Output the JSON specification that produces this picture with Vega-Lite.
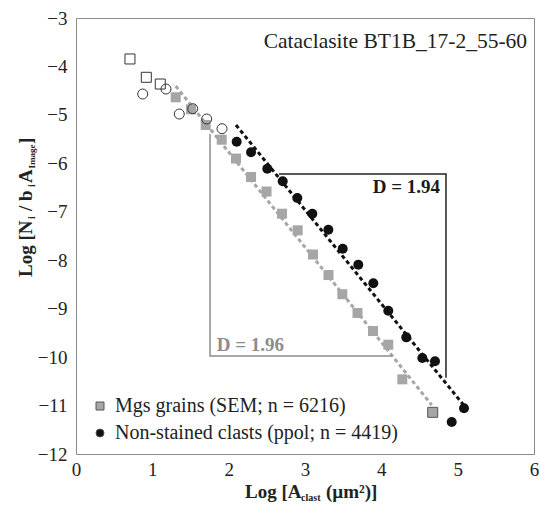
{
  "$schema": "https://vega.github.io/schema/vega-lite/v6.json",
  "width": 458,
  "height": 436,
  "autosize": {"type": "none"},
  "padding": {"left": 76, "top": 18, "right": 6, "bottom": 52},
  "background": "white",
  "config": {
    "view": {"stroke": "#8a8a8a", "strokeWidth": 1},
    "font": "Liberation Serif"
  },
  "datasets": {
    "filled": [
      {"series": "Mgs grains (SEM; n = 6216)", "x": 1.306, "y": -4.637},
      {"series": "Mgs grains (SEM; n = 6216)", "x": 1.507, "y": -4.885},
      {"series": "Mgs grains (SEM; n = 6216)", "x": 1.699, "y": -5.209},
      {"series": "Mgs grains (SEM; n = 6216)", "x": 1.909, "y": -5.512},
      {"series": "Mgs grains (SEM; n = 6216)", "x": 2.096, "y": -5.901},
      {"series": "Mgs grains (SEM; n = 6216)", "x": 2.293, "y": -6.282},
      {"series": "Mgs grains (SEM; n = 6216)", "x": 2.496, "y": -6.582},
      {"series": "Mgs grains (SEM; n = 6216)", "x": 2.699, "y": -7.040},
      {"series": "Mgs grains (SEM; n = 6216)", "x": 2.904, "y": -7.383},
      {"series": "Mgs grains (SEM; n = 6216)", "x": 3.105, "y": -7.882},
      {"series": "Mgs grains (SEM; n = 6216)", "x": 3.308, "y": -8.306},
      {"series": "Mgs grains (SEM; n = 6216)", "x": 3.489, "y": -8.702},
      {"series": "Mgs grains (SEM; n = 6216)", "x": 3.688, "y": -9.090},
      {"series": "Mgs grains (SEM; n = 6216)", "x": 3.891, "y": -9.462},
      {"series": "Mgs grains (SEM; n = 6216)", "x": 4.091, "y": -9.744},
      {"series": "Mgs grains (SEM; n = 6216)", "x": 4.275, "y": -10.459},
      {"series": "Mgs grains (SEM; n = 6216)", "x": 4.673, "y": -11.140},
      {"series": "Non-stained clasts (ppol; n = 4419)", "x": 2.105, "y": -5.554},
      {"series": "Non-stained clasts (ppol; n = 4419)", "x": 2.293, "y": -5.773},
      {"series": "Non-stained clasts (ppol; n = 4419)", "x": 2.506, "y": -6.111},
      {"series": "Non-stained clasts (ppol; n = 4419)", "x": 2.708, "y": -6.371},
      {"series": "Non-stained clasts (ppol; n = 4419)", "x": 2.899, "y": -6.716},
      {"series": "Non-stained clasts (ppol; n = 4419)", "x": 3.096, "y": -7.040},
      {"series": "Non-stained clasts (ppol; n = 4419)", "x": 3.306, "y": -7.370},
      {"series": "Non-stained clasts (ppol; n = 4419)", "x": 3.494, "y": -7.763},
      {"series": "Non-stained clasts (ppol; n = 4419)", "x": 3.698, "y": -8.095},
      {"series": "Non-stained clasts (ppol; n = 4419)", "x": 3.895, "y": -8.477},
      {"series": "Non-stained clasts (ppol; n = 4419)", "x": 4.091, "y": -9.043},
      {"series": "Non-stained clasts (ppol; n = 4419)", "x": 4.327, "y": -9.592},
      {"series": "Non-stained clasts (ppol; n = 4419)", "x": 4.537, "y": -10.019},
      {"series": "Non-stained clasts (ppol; n = 4419)", "x": 4.703, "y": -10.087},
      {"series": "Non-stained clasts (ppol; n = 4419)", "x": 4.922, "y": -11.340},
      {"series": "Non-stained clasts (ppol; n = 4419)", "x": 5.083, "y": -11.057}
    ],
    "outlined": [
      {"x": 4.673, "y": -11.140}
    ],
    "hollowSquares": [
      {"x": 0.707, "y": -3.846},
      {"x": 0.921, "y": -4.224},
      {"x": 1.104, "y": -4.363}
    ],
    "hollowCircles": [
      {"x": 0.874, "y": -4.569},
      {"x": 1.179, "y": -4.466},
      {"x": 1.353, "y": -4.982},
      {"x": 1.529, "y": -4.872},
      {"x": 1.712, "y": -5.085},
      {"x": 1.913, "y": -5.285}
    ],
    "fitMgs": [
      {"x": 1.306, "y": -4.404},
      {"x": 4.660, "y": -10.989}
    ],
    "fitClast": [
      {"x": 2.096, "y": -5.209},
      {"x": 5.096, "y": -11.024}
    ],
    "boxClast": [
      {"i": 0, "x": 2.66, "y": -6.22},
      {"i": 1, "x": 4.847, "y": -6.22},
      {"i": 2, "x": 4.847, "y": -10.426}
    ],
    "boxMgs": [
      {"i": 0, "x": 1.756, "y": -5.395},
      {"i": 1, "x": 1.756, "y": -9.978},
      {"i": 2, "x": 4.136, "y": -9.978}
    ]
  },
  "layer": [
    {
      "data": {"name": "fitMgs"},
      "mark": {"type": "line", "color": "#a6a6a6", "strokeWidth": 3, "strokeDash": [4, 3]},
      "encoding": {
        "x": {"field": "x", "type": "quantitative",
              "scale": {"domain": [0, 6], "nice": false, "zero": false},
              "axis": {"values": [0, 1, 2, 3, 4, 5, 6], "format": "d", "grid": false, "ticks": false, "domain": false,
                       "labelFont": "Liberation Serif", "labelFontSize": 19, "labelColor": "#222",
                       "labelPadding": 6, "title": null, "labelFlush": false}},
        "y": {"field": "y", "type": "quantitative",
              "scale": {"domain": [-12, -3], "nice": false, "zero": false},
              "axis": {"values": [-12, -11, -10, -9, -8, -7, -6, -5, -4, -3], "format": "d", "grid": false, "ticks": false, "domain": false,
                       "labelFont": "Liberation Serif", "labelFontSize": 19, "labelColor": "#222",
                       "labelPadding": 9, "title": null, "labelFlush": false}}
      }
    },
    {
      "data": {"name": "fitClast"},
      "mark": {"type": "line", "color": "#111111", "strokeWidth": 3, "strokeDash": [4, 3]},
      "encoding": {
        "x": {"field": "x", "type": "quantitative"},
        "y": {"field": "y", "type": "quantitative"}
      }
    },
    {
      "data": {"name": "boxClast"},
      "mark": {"type": "line", "color": "#222222", "strokeWidth": 1.5},
      "encoding": {
        "x": {"field": "x", "type": "quantitative"},
        "y": {"field": "y", "type": "quantitative"},
        "order": {"field": "i", "type": "quantitative"}
      }
    },
    {
      "data": {"name": "boxMgs"},
      "mark": {"type": "line", "color": "#8c8c8c", "strokeWidth": 1.5},
      "encoding": {
        "x": {"field": "x", "type": "quantitative"},
        "y": {"field": "y", "type": "quantitative"},
        "order": {"field": "i", "type": "quantitative"}
      }
    },
    {
      "data": {"name": "filled"},
      "mark": {"type": "point", "filled": true, "opacity": 1, "size": 100},
      "encoding": {
        "x": {"field": "x", "type": "quantitative"},
        "y": {"field": "y", "type": "quantitative"},
        "color": {"field": "series", "type": "nominal",
                  "scale": {"domain": ["Mgs grains (SEM; n = 6216)", "Non-stained clasts (ppol; n = 4419)"],
                            "range": ["#a6a6a6", "#111111"]},
                  "legend": {"title": null, "orient": "none", "legendX": 14, "legendY": 378, "padding": 0,
                             "labelFont": "Liberation Serif", "labelFontSize": 20, "labelColor": "#222",
                             "symbolSize": 64, "rowPadding": 7, "labelOffset": 5,
                             "symbolStrokeColor": "#555555", "symbolStrokeWidth": 1, "labelLimit": 400}},
        "shape": {"field": "series", "type": "nominal",
                  "scale": {"domain": ["Mgs grains (SEM; n = 6216)", "Non-stained clasts (ppol; n = 4419)"],
                            "range": ["square", "circle"]},
                  "legend": {"title": null, "orient": "none", "legendX": 14, "legendY": 378, "padding": 0,
                             "labelFont": "Liberation Serif", "labelFontSize": 20, "labelColor": "#222",
                             "symbolSize": 64, "rowPadding": 7, "labelOffset": 5,
                             "symbolStrokeColor": "#555555", "symbolStrokeWidth": 1, "labelLimit": 400}}
      }
    },
    {
      "data": {"name": "outlined"},
      "mark": {"type": "point", "shape": "square", "filled": false, "color": "#555555", "strokeWidth": 1, "size": 100, "opacity": 1},
      "encoding": {
        "x": {"field": "x", "type": "quantitative"},
        "y": {"field": "y", "type": "quantitative"}
      }
    },
    {
      "data": {"name": "hollowSquares"},
      "mark": {"type": "point", "shape": "square", "filled": false, "color": "#333333", "strokeWidth": 1, "size": 100, "opacity": 1},
      "encoding": {
        "x": {"field": "x", "type": "quantitative"},
        "y": {"field": "y", "type": "quantitative"}
      }
    },
    {
      "data": {"name": "hollowCircles"},
      "mark": {"type": "point", "shape": "circle", "filled": false, "color": "#333333", "strokeWidth": 1, "size": 100, "opacity": 1},
      "encoding": {
        "x": {"field": "x", "type": "quantitative"},
        "y": {"field": "y", "type": "quantitative"}
      }
    },
    {
      "data": {"values": [{}]},
      "mark": {"type": "text", "align": "right", "baseline": "alphabetic", "font": "Liberation Serif", "fontSize": 21.5, "color": "#222222"},
      "encoding": {"x": {"datum": 5.909}, "y": {"datum": -3.609}, "text": {"value": "Cataclasite BT1B_17-2_55-60"}}
    },
    {
      "data": {"values": [{}]},
      "mark": {"type": "text", "align": "right", "baseline": "alphabetic", "font": "Liberation Serif", "fontWeight": "bold", "fontSize": 19, "color": "#1a1a1a"},
      "encoding": {"x": {"datum": 4.769}, "y": {"datum": -6.613}, "text": {"value": "D = 1.94"}}
    },
    {
      "data": {"values": [{}]},
      "mark": {"type": "text", "align": "left", "baseline": "alphabetic", "font": "Liberation Serif", "fontWeight": "bold", "fontSize": 19, "color": "#8c8c8c"},
      "encoding": {"x": {"datum": 1.843}, "y": {"datum": -9.868}, "text": {"value": "D = 1.96"}}
    },
    {
      "data": {"values": [{}]},
      "mark": {"type": "text", "align": "left", "baseline": "alphabetic", "font": "Liberation Serif", "fontWeight": "bold", "fontSize": 19, "color": "#222222"},
      "encoding": {"x": {"datum": 2.214}, "y": {"datum": -12.909}, "text": {"value": "Log [A"}}
    },
    {
      "data": {"values": [{}]},
      "mark": {"type": "text", "align": "left", "baseline": "alphabetic", "font": "Liberation Serif", "fontWeight": "bold", "fontSize": 10, "color": "#222222"},
      "encoding": {"x": {"datum": 2.948}, "y": {"datum": -12.971}, "text": {"value": "clast"}}
    },
    {
      "data": {"values": [{}]},
      "mark": {"type": "text", "align": "left", "baseline": "alphabetic", "font": "Liberation Serif", "fontWeight": "bold", "fontSize": 19, "color": "#222222"},
      "encoding": {"x": {"datum": 3.275}, "y": {"datum": -12.909}, "text": {"value": "(µm²)]"}}
    },
    {
      "data": {"values": [{}]},
      "mark": {"type": "text", "align": "left", "baseline": "alphabetic", "angle": 270, "font": "Liberation Serif", "fontWeight": "bold", "fontSize": 19, "color": "#222222"},
      "encoding": {"x": {"datum": -0.58}, "y": {"datum": -8.347}, "text": {"value": "Log [N"}}
    },
    {
      "data": {"values": [{}]},
      "mark": {"type": "text", "align": "left", "baseline": "alphabetic", "angle": 270, "font": "Liberation Serif", "fontWeight": "bold", "fontSize": 10, "color": "#222222"},
      "encoding": {"x": {"datum": -0.537}, "y": {"datum": -7.149}, "text": {"value": "i"}}
    },
    {
      "data": {"values": [{}]},
      "mark": {"type": "text", "align": "left", "baseline": "alphabetic", "angle": 270, "font": "Liberation Serif", "fontWeight": "bold", "fontSize": 19, "color": "#222222"},
      "encoding": {"x": {"datum": -0.58}, "y": {"datum": -6.984}, "text": {"value": "/ b"}}
    },
    {
      "data": {"values": [{}]},
      "mark": {"type": "text", "align": "left", "baseline": "alphabetic", "angle": 270, "font": "Liberation Serif", "fontWeight": "bold", "fontSize": 10, "color": "#222222"},
      "encoding": {"x": {"datum": -0.537}, "y": {"datum": -6.489}, "text": {"value": "i"}}
    },
    {
      "data": {"values": [{}]},
      "mark": {"type": "text", "align": "left", "baseline": "alphabetic", "angle": 270, "font": "Liberation Serif", "fontWeight": "bold", "fontSize": 19, "color": "#222222"},
      "encoding": {"x": {"datum": -0.58}, "y": {"datum": -6.406}, "text": {"value": "A"}}
    },
    {
      "data": {"values": [{}]},
      "mark": {"type": "text", "align": "left", "baseline": "alphabetic", "angle": 270, "font": "Liberation Serif", "fontWeight": "bold", "fontSize": 9, "color": "#222222"},
      "encoding": {"x": {"datum": -0.537}, "y": {"datum": -6.107}, "text": {"value": "Image"}}
    },
    {
      "data": {"values": [{}]},
      "mark": {"type": "text", "align": "left", "baseline": "alphabetic", "angle": 270, "font": "Liberation Serif", "fontWeight": "bold", "fontSize": 19, "color": "#222222"},
      "encoding": {"x": {"datum": -0.58}, "y": {"datum": -5.601}, "text": {"value": "]"}}
    }
  ]
}
